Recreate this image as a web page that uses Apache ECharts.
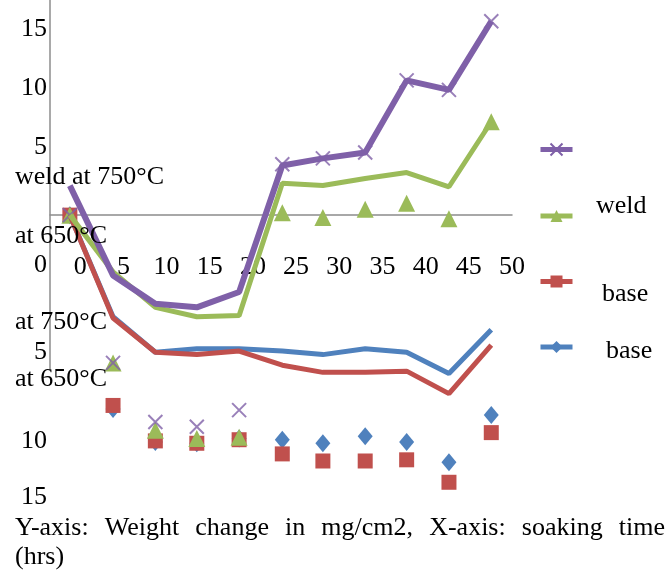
<!DOCTYPE html>
<html>
<head>
<meta charset="utf-8">
<script src="https://cdn.jsdelivr.net/npm/echarts@6/dist/echarts.min.js"></script>
<style>
html, body { margin: 0; padding: 0; background: #fff; }
#main { width: 670px; height: 570px; }
</style>
</head>
<body>
<div id="main"></div>
<script>
// soaking time of each reading (hrs), as plotted
var hours = [-1.2, 3.8, 8.7, 13.5, 18.4, 23.4, 28.1, 33.0, 37.8, 42.7, 47.6];
var xTicks = [0, 5, 10, 15, 20, 25, 30, 35, 40, 45, 50];
var yTicks = [15, 10, 5];
// the lower y labels lost their minus signs and drifted
var yLowTickAt = [-4.2, -11.6, -19.1, -23.9];
var yLowTickText = ['0', '5', '10', '15'];

// lines (weight change, mg/cm2)
var weld750Line = [2.5, -5.1, -7.5, -7.8, -6.5, 4.2, 4.8, 5.3, 11.4, 10.6, 16.4];
var weld650Line = [0, -4.8, -7.8, -8.6, -8.5, 2.7, 2.5, 3.1, 3.6, 2.4, 7.9];
var base750Line = [0, -8.7, -11.6, -11.8, -11.5, -12.7, -13.3, -13.3, -13.2, -15.1, -11.0];
var base650Line = [0, -8.6, -11.6, -11.3, -11.3, -11.5, -11.8, -11.3, -11.6, -13.4, -9.7];

// markers, drawn apart from the lines
var weld750Pts = [0, -12.5, -17.5, -17.9, -16.5, 4.3, 4.8, 5.3, 11.4, 10.6, 16.4];
var weld650Pts = [0, -12.5, -18.2, -18.9, -18.8, 0.2, -0.2, 0.5, 1.0, -0.3, 7.9];
var base750Pts = [0, -16.1, -19.1, -19.3, -19.0, -20.2, -20.8, -20.8, -20.7, -22.6, -18.4];
var base650Pts = [0, -16.4, -19.2, -19.3, -18.9, -19.0, -19.3, -18.7, -19.2, -20.9, -16.9];

var names = ['weld at 750°C', 'weld at 650°C', 'base at 750°C', 'base at 650°C'];
var colors = ['#7f60a8', '#9bbb59', '#c0504d', '#4f81bd'];
var cross = 'path://M0,0L10,10M10,0L0,10';
var font = 'Liberation Serif';
var axisGrey = '#8c8c8c';

function pairs(arr) {
    return hours.map(function (h, i) {
        return [h, arr[i]];
    });
}

function lineSeries(name, color, width, symbol) {
    return {
        name: name,
        type: 'line',
        xAxisIndex: 2,
        yAxisIndex: 2,
        showSymbol: false,
        symbol: symbol,
        clip: false,
        lineStyle: { color: color, width: width },
        itemStyle: { color: color, borderColor: color, borderWidth: symbol === cross ? 2 : 0 },
        data: []
    };
}

function markSeries(name, color, symbol, size) {
    var s = {
        name: name + ' pts',
        type: 'scatter',
        xAxisIndex: 2,
        yAxisIndex: 2,
        symbol: symbol,
        symbolSize: size,
        clip: false,
        itemStyle: { color: color, opacity: 1 },
        data: []
    };
    if (symbol === cross) {
        s.itemStyle = { color: 'none', borderColor: color, borderWidth: 2 };
    }
    return s;
}

// caption is justified across the page width
function captionLine(text, y, justify) {
    var ctx = document.createElement('canvas').getContext('2d');
    ctx.font = '26px "' + font + '"';
    var words = text.split(' ');
    var widths = words.map(function (w) { return ctx.measureText(w).width; });
    var total = widths.reduce(function (a, b) { return a + b; }, 0);
    var gap = justify ? (650 - total) / (words.length - 1) : ctx.measureText(' ').width;
    var x = 15;
    var out = [];
    for (var i = 0; i < words.length; i++) {
        out.push({
            type: 'text',
            style: { x: x, y: y, text: words[i], fontFamily: font, fontSize: 26, fill: '#000', verticalAlign: 'middle' }
        });
        x += widths[i] + gap;
    }
    return out;
}

function label(text, x, y) {
    return {
        type: 'text',
        z: 100,
        style: { x: x, y: y, text: text, fontFamily: font, fontSize: 26, fill: '#000', verticalAlign: 'middle' }
    };
}

var noLine = { show: false };
var myChart = echarts.init(document.getElementById('main'));
var option = {
    animation: false,
    grid: [
        // upper half: x axis sits on zero
        { left: 50, top: 0, width: 462, height: 215 },
        // y axis line
        { left: 50, top: 0, width: 462, height: 370 },
        // marks and the lower labels
        { left: 50, top: 0, width: 462, height: 500 }
    ],
    xAxis: [{
        gridIndex: 0,
        type: 'value',
        min: -3.5,
        max: 50,
        axisLine: { show: true, lineStyle: { color: axisGrey, width: 1.5 } },
        axisTick: noLine,
        splitLine: noLine,
        axisLabel: { customValues: xTicks, margin: 39, color: '#000', fontFamily: font, fontSize: 26 }
    }, {
        gridIndex: 1, type: 'value', min: -3.5, max: 50, show: false
    }, {
        gridIndex: 2, type: 'value', min: -3.5, max: 50, show: false
    }],
    yAxis: [{
        gridIndex: 0,
        type: 'value',
        min: 0,
        max: 18.2,
        axisLine: noLine,
        axisTick: noLine,
        splitLine: noLine,
        axisLabel: {
            customValues: yTicks, margin: 3, color: '#000', fontFamily: font, fontSize: 26,
            verticalAlign: 'bottom', lineHeight: 18
        }
    }, {
        gridIndex: 1,
        type: 'value',
        min: -13.1,
        max: 18.2,
        axisLine: { show: true, onZero: false, lineStyle: { color: axisGrey, width: 1.5 } },
        axisTick: noLine,
        splitLine: noLine,
        axisLabel: { show: false }
    }, {
        gridIndex: 2,
        type: 'value',
        min: -24.1,
        max: 18.2,
        axisLine: noLine,
        axisTick: noLine,
        splitLine: noLine,
        axisLabel: {
            customValues: yLowTickAt,
            margin: 3,
            color: '#000',
            fontFamily: font,
            fontSize: 26,
            formatter: function (value) {
                return yLowTickText[yLowTickAt.indexOf(value)];
            }
        }
    }],
    legend: {
        orient: 'vertical',
        left: 538,
        top: 142,
        padding: 0,
        itemWidth: 32,
        itemHeight: 15,
        itemGap: 52,
        selectedMode: false,
        lineStyle: { width: 5 },
        data: names,
        formatter: function () { return ''; }
    },
    series: [
        lineSeries(names[3], colors[3], 5, 'diamond'),
        lineSeries(names[2], colors[2], 5, 'rect'),
        lineSeries(names[1], colors[1], 5, 'triangle'),
        lineSeries(names[0], colors[0], 6, cross),
        markSeries(names[3], colors[3], 'diamond', [15, 18]),
        markSeries(names[2], colors[2], 'rect', 15),
        markSeries(names[1], colors[1], 'triangle', 17),
        markSeries(names[0], colors[0], cross, 14)
    ],
    graphic: [
        label('weld at 750°C', 15, 177),
        label('at 650°C', 15, 236),
        label('at 750°C', 15, 322),
        label('at 650°C', 15, 379),
        label('weld', 596, 206),
        label('base', 602, 294),
        label('base', 606, 351)
    ]
};
option.series[0].data = pairs(base650Line);
option.series[1].data = pairs(base750Line);
option.series[2].data = pairs(weld650Line);
option.series[3].data = pairs(weld750Line);
option.series[4].data = pairs(base650Pts);
option.series[5].data = pairs(base750Pts);
option.series[6].data = pairs(weld650Pts);
option.series[7].data = pairs(weld750Pts);
option.graphic = option.graphic
    .concat(captionLine('Y-axis: Weight change in mg/cm2, X-axis: soaking time', 528, true))
    .concat(captionLine('(hrs)', 557, false));
myChart.setOption(option);
</script>
</body>
</html>
